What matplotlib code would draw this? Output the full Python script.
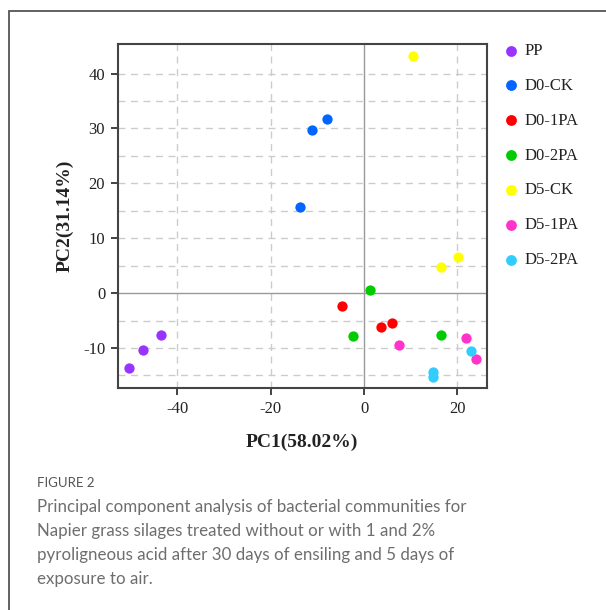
import matplotlib.pyplot as plt
from matplotlib.patches import Rectangle

groups = ['PP', 'D0-CK', 'D0-1PA', 'D0-2PA', 'D5-CK', 'D5-1PA', 'D5-2PA']
colors = ['#9933ff', '#0066ff', '#ff0000', '#00cc00', '#ffff00', '#ff33cc', '#33ccff']
pc1 = [
    [-50.4, -47.4, -43.6],
    [-13.8, -11.2, -7.9],
    [-4.8, 3.6, 5.9],
    [1.2, -2.4, 16.6],
    [10.5, 16.4, 20.1],
    [7.6, 21.8, 24.0],
    [14.8, 14.7, 22.9],
]
pc2 = [
    [-13.6, -10.3, -7.7],
    [15.6, 29.7, 31.8],
    [-2.3, -6.2, -5.4],
    [0.6, -7.8, -7.6],
    [43.3, 4.7, 6.6],
    [-9.4, -8.2, -12.1],
    [-14.3, -15.3, -10.5],
]
xticks = [-40, -20, 0, 20]
yticks = [-10, 0, 10, 20, 30, 40]
xgrid = [-40, -20, 20]
ygrid = [-15, -10, -5, 5, 10, 15, 20, 25, 30, 35, 40]

caption_head = 'FIGURE 2'
caption_lines = ['Principal component analysis of bacterial communities for',
                 'Napier grass silages treated without or with 1 and 2%',
                 'pyroligneous acid after 30 days of ensiling and 5 days of',
                 'exposure to air.']

fig = plt.figure(figsize=(6.06, 6.10), dpi=100)
fig.patches.append(Rectangle((9 / 606, -0.1), 1.2, 1.1 - 11 / 610, transform=fig.transFigure,
                             fill=False, edgecolor='#555555', linewidth=1.3))

ax = fig.add_axes([0.1942, 0.3639, 0.609, 0.564])
for x in xgrid:
    ax.axvline(x, color='#cccccc', linestyle=(0, (5, 4)), linewidth=1, zorder=0)
for y in ygrid:
    ax.axhline(y, color='#cccccc', linestyle=(0, (5, 4)), linewidth=1, zorder=0)
ax.axvline(0, color='#999999', linewidth=1, zorder=1)
ax.axhline(0, color='#999999', linewidth=1, zorder=1)

for g, c, xs, ys in zip(groups, colors, pc1, pc2):
    ax.scatter(xs, ys, s=55, color=c, label=g, zorder=3, linewidths=0)

ax.set_xlim(-52.8, 26.3)
ax.set_ylim(-17.3, 45.4)
ax.set_xticks(xticks)
ax.set_yticks(yticks)
ax.set_xticklabels([str(t) for t in xticks])
ax.set_yticklabels([str(t) for t in yticks])
for sp in ax.spines.values():
    sp.set_color('#444444')
    sp.set_linewidth(1.5)
ax.tick_params(colors='#222222', labelsize=12, length=5, width=1.2, pad=4,
               labelcolor='#222222')
for lab in ax.get_xticklabels() + ax.get_yticklabels():
    lab.set_family('Liberation Serif')

ax.set_xlabel('PC1(58.02%)', family='Liberation Serif', fontweight='bold', fontsize=14,
              color='#222222', labelpad=12)
ax.set_ylabel('PC2(31.14%)', family='Liberation Serif', fontweight='bold', fontsize=14,
              color='#222222', labelpad=7)

leg = ax.legend(loc='upper left', bbox_to_anchor=(504 / 606, 1 - 43 / 610),
                bbox_transform=fig.transFigure, frameon=False,
                prop={'family': 'Liberation Serif', 'size': 12},
                labelspacing=1.13, handletextpad=0.44, handlelength=0.8,
                markerscale=1.05, borderaxespad=0, borderpad=0)
for t in leg.get_texts():
    t.set_color('#222222')

fig.text(37 / 606, 1 - 483 / 610, caption_head, family='Lato', fontsize=9.5,
         color='#555555', va='center', ha='left')
# caption lines placed one by one, 24 px apart
for i, line in enumerate(caption_lines):
    fig.text(37 / 606, 1 - (507 + 24 * i) / 610, line, family='Lato', fontsize=12.2,
             color='#6e6e6e', va='center', ha='left')

plt.savefig('out.png', dpi=100)
